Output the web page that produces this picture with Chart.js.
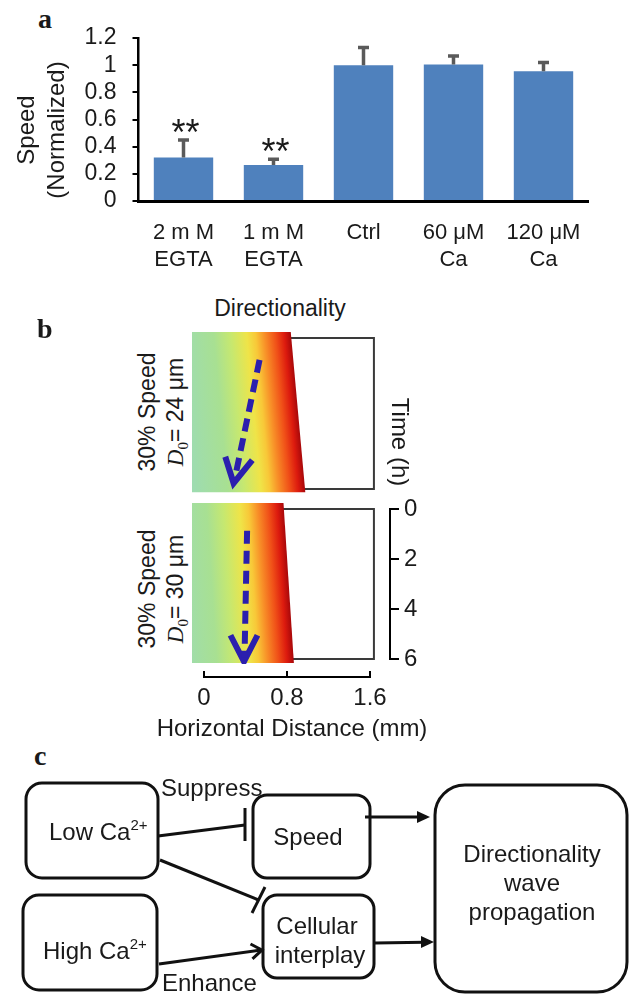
<!DOCTYPE html>
<html>
<head>
<meta charset="utf-8">
<script src="https://cdn.jsdelivr.net/npm/chart.js@4.4.1/dist/chart.umd.min.js"></script>
<style>
  html, body { margin: 0; padding: 0; background: #fff; }
  #pagina { position: relative; width: 630px; height: 994px; overflow: hidden;
            font-family: "Liberation Sans", Arial, sans-serif; color: #1a1a1a; }
  canvas { position: absolute; }
  .letra { position: absolute; font-family: "Liberation Serif", "Times New Roman", serif;
           font-weight: bold; font-size: 28px; line-height: 28px; }
  .texto { position: absolute; white-space: nowrap; line-height: 1; font-size: 23px;
           transform: translate(-50%, -50%); }
  .girado { position: absolute; white-space: nowrap; line-height: 1; font-size: 23px;
            transform: translate(-50%, -50%) rotate(-90deg); }
  .serif { font-family: "Liberation Serif", "Times New Roman", serif; }
  svg { position: absolute; left: 0; top: 0; }
</style>
</head>
<body>
<div id="pagina">
  <!-- painel a -->
  <div class="letra" style="left:38px; top:5px;">a</div>
  <canvas id="graficoVelocidade" width="630" height="290" style="left:0; top:0;"></canvas>
  <div class="girado" style="left:41px; top:130px; font-size:24px; line-height:30px; text-align:center;">Speed<br>(Normalized)</div>

  <!-- painel b -->
  <div class="letra" style="left:37px; top:315px;">b</div>
  <div class="texto" style="left:280px; top:308px;">Directionality</div>
  <div class="girado" style="left:147px; top:412px;">30% Speed</div>
  <div class="girado" style="left:175px; top:412px;"><i class="serif">D</i><span class="serif" style="font-size:15px; position:relative; top:5px;">0</span>= 24 μm</div>
  <div class="girado" style="left:147px; top:589px;">30% Speed</div>
  <div class="girado" style="left:175px; top:589px;"><i class="serif">D</i><span class="serif" style="font-size:15px; position:relative; top:5px;">0</span>= 30 μm</div>
  <canvas id="kimografoTopo" width="184" height="163" style="left:192px; top:331px;"></canvas>
  <canvas id="kimografoBase" width="184" height="162" style="left:192px; top:502px;"></canvas>
  <canvas id="eixoTempo" width="100" height="190" style="left:340px; top:490px;"></canvas>
  <canvas id="eixoDistancia" width="300" height="60" style="left:150px; top:660px;"></canvas>
  <div class="texto" style="left:400px; top:442px; font-size:24px; transform: translate(-50%, -50%) rotate(90deg);">Time (h)</div>
  <div class="texto" style="left:292px; top:728px; font-size:24px;">Horizontal Distance (mm)</div>

  <!-- painel c -->
  <div class="letra" style="left:34px; top:742px;">c</div>
  <svg width="630" height="994" viewBox="0 0 630 994">
    <g fill="none" stroke="#111" stroke-width="3">
      <rect x="26" y="783" width="132" height="95" rx="16"/>
      <rect x="23" y="895" width="134" height="95" rx="16"/>
      <rect x="253" y="795" width="117" height="83" rx="14"/>
      <rect x="263" y="895" width="111" height="83" rx="14"/>
      <rect x="435" y="785" width="192" height="207" rx="30"/>
      <line x1="158" y1="836" x2="245" y2="825"/>
      <line x1="245" y1="808" x2="245" y2="841"/>
      <line x1="160" y1="860" x2="258.5" y2="900"/>
      <line x1="265" y1="887" x2="252" y2="913"/>
      <line x1="159" y1="964" x2="261" y2="950"/>
      <polyline points="250.5,944 262,950 252.5,958.8"/>
      <line x1="365" y1="817" x2="420" y2="817"/>
      <line x1="375" y1="943" x2="424" y2="942.2"/>
    </g>
    <g fill="#111">
      <polygon points="430,817 417,811 417,823"/>
      <polygon points="434,942 421,936 421,948"/>
    </g>
    <g font-family="Liberation Sans, Arial, sans-serif" font-size="24" fill="#1a1a1a">
      <text x="49" y="840">Low Ca<tspan font-size="15" dy="-10">2+</tspan></text>
      <text x="43" y="959">High Ca<tspan font-size="15" dy="-10">2+</tspan></text>
      <text x="308" y="845" text-anchor="middle">Speed</text>
      <text x="317" y="934" text-anchor="middle">Cellular</text>
      <text x="320" y="963" text-anchor="middle">interplay</text>
      <text x="532" y="862" text-anchor="middle">Directionality</text>
      <text x="532" y="891" text-anchor="middle">wave</text>
      <text x="532" y="920" text-anchor="middle">propagation</text>
      <text x="161" y="796">Suppress</text>
      <text x="162" y="991">Enhance</text>
    </g>
  </svg>
</div>

<script>
// painel a: velocidade normalizada
const categorias = [['2 m M', 'EGTA'], ['1 m M', 'EGTA'], 'Ctrl', ['60 μM', 'Ca'], ['120 μM', 'Ca']];
const velocidades = [0.32, 0.265, 1.0, 1.005, 0.955];
const errosVelocidade = [0.13, 0.042, 0.13, 0.063, 0.064];
const significancia = ['**', '**', '', '', ''];
const ticksVelocidade = [0, 0.2, 0.4, 0.6, 0.8, 1, 1.2];

// painel b: eixos (mm e horas)
const ticksDistancia = [0, 0.8, 1.6];
const ticksTempo = [0, 2, 4, 6];

// kimografo de cima (D0 = 24 um)
const ondaTopoX = [-0.12, -0.12, 0.83, 0.97];
const ondaTopoY = [6.13, -0.24, -0.24, 6.13];
const quadroTopoX = [0.80, 1.63, 1.63, 0.95];
const quadroTopoY = [0, 0, 6, 6];
const setaTopoX = [0.53, 0.29];
const setaTopoY = [0.87, 5.62];
const pontaTopoX = [0.20, 0.28, 0.46];
const pontaTopoY = [4.72, 5.77, 4.85];

// kimografo de baixo (D0 = 30 um)
const ondaBaseX = [-0.12, -0.12, 0.76, 0.86];
const ondaBaseY = [6.16, -0.24, -0.24, 6.16];
const quadroBaseX = [0.70, 1.63, 1.63, 0.80];
const quadroBaseY = [0, 0, 6, 6];
const setaBaseX = [0.41, 0.385];
const setaBaseY = [0.87, 5.95];
const pontaBaseX = [0.25, 0.38, 0.51];
const pontaBaseY = [5.05, 6.1, 5.05];

// cores do mapa de calor (posicao relativa a frente da onda)
const paradasCor = [
    [0.00, '#9edcb0'], [0.30, '#a8e092'], [0.45, '#c6e870'], [0.60, '#efe448'],
    [0.68, '#f8c838'], [0.76, '#f89028'], [0.86, '#f05018'], [0.94, '#dc1a0e'], [1.00, '#a8080a']
];
const corSeta = '#2b1fae';

Chart.defaults.font.family = '"Liberation Sans", Arial, sans-serif';
Chart.defaults.color = '#1a1a1a';

function pares(xs, ys) {
    return xs.map((x, i) => ({ x, y: ys[i] }));
}

function ticksFixos(valores) {
    return (eixo) => { eixo.ticks = valores.map(v => ({ value: v })); };
}

// barras de erro e asteriscos por cima das barras
const pluginBarrasErro = {
    id: 'barrasErro',
    afterDatasetsDraw(chart) {
        const { ctx, scales: { y } } = chart;
        const meta = chart.getDatasetMeta(0);
        ctx.save();
        meta.data.forEach((barra, i) => {
            const topo = y.getPixelForValue(velocidades[i] + errosVelocidade[i]);
            ctx.strokeStyle = '#5a5a5a';
            ctx.lineWidth = 3.5;
            ctx.beginPath();
            ctx.moveTo(barra.x, barra.y);
            ctx.lineTo(barra.x, topo);
            ctx.moveTo(barra.x - 5.5, topo);
            ctx.lineTo(barra.x + 5.5, topo);
            ctx.stroke();
            if (significancia[i]) {
                ctx.fillStyle = '#1a1a1a';
                ctx.font = '36px "Liberation Sans", Arial, sans-serif';
                ctx.textAlign = 'center';
                ctx.textBaseline = 'alphabetic';
                ctx.fillText(significancia[i], barra.x + 2, topo + 5);
            }
        });
        ctx.restore();
    }
};

function renderizarGraficoVelocidade() {
    new Chart(document.getElementById('graficoVelocidade'), {
        type: 'bar',
        data: {
            labels: categorias,
            datasets: [{
                data: velocidades,
                backgroundColor: '#4f81bd',
                categoryPercentage: 1,
                barPercentage: 0.66
            }]
        },
        options: {
            responsive: false,
            animation: false,
            layout: { padding: { left: 0, right: 41.5, top: 38, bottom: 0 } },
            plugins: { legend: { display: false }, tooltip: { enabled: false } },
            scales: {
                x: {
                    grid: { display: true, drawOnChartArea: false, drawTicks: false },
                    border: { color: '#000', width: 3 },
                    ticks: { font: { size: 22, lineHeight: 1.23 }, padding: 18, maxRotation: 0, autoSkip: false },
                    afterFit: (s) => { s.height = 89; }
                },
                y: {
                    min: 0,
                    max: 1.2,
                    afterBuildTicks: ticksFixos(ticksVelocidade),
                    grid: { drawOnChartArea: false, color: '#000', lineWidth: 2, tickLength: 6 },
                    border: { color: '#000', width: 2.5 },
                    ticks: { font: { size: 23 }, padding: 16, autoSkip: false, callback: (v) => String(v) },
                    afterFit: (s) => { s.width = 138.5; }
                }
            }
        },
        plugins: [pluginBarrasErro]
    });
}

// gradiente perpendicular a frente da onda
function gradienteOnda(ondaX, ondaY) {
    return (context) => {
        const { ctx, chartArea, scales } = context.chart;
        if (!chartArea) return '#efe448';
        const x0 = scales.x.getPixelForValue(ondaX[2]), y0 = scales.y.getPixelForValue(ondaY[2]);
        const x1 = scales.x.getPixelForValue(ondaX[3]), y1 = scales.y.getPixelForValue(ondaY[3]);
        const len = Math.hypot(x1 - x0, y1 - y0);
        const nx = (y1 - y0) / len, ny = -(x1 - x0) / len;
        const mx = (x0 + x1) / 2, my = (y0 + y1) / 2;
        const g = ctx.createLinearGradient(mx - nx * 110, my - ny * 110, mx, my);
        paradasCor.forEach(([t, c]) => g.addColorStop(t, c));
        return g;
    };
}

function renderizarKimografo(id, onda, quadro, seta, ponta) {
    new Chart(document.getElementById(id), {
        type: 'line',
        data: {
            datasets: [
                { data: pares(seta[0], seta[1]), borderColor: corSeta, borderWidth: 6, borderDash: [13, 7], pointRadius: 0, fill: false },
                { data: pares(ponta[0], ponta[1]), borderColor: corSeta, borderWidth: 6, borderJoinStyle: 'miter', pointRadius: 0, fill: false },
                { data: pares(onda[0], onda[1]), borderColor: 'rgba(0,0,0,0)', borderWidth: 0, pointRadius: 0, fill: 'shape', backgroundColor: gradienteOnda(onda[0], onda[1]) },
                { data: pares(quadro[0], quadro[1]), borderColor: '#3a3a3a', borderWidth: 2, pointRadius: 0, fill: false }
            ]
        },
        options: {
            responsive: false,
            animation: false,
            layout: { padding: 0 },
            plugins: { legend: { display: false }, tooltip: { enabled: false } },
            scales: {
                x: { type: 'linear', display: false, min: -0.12, max: 1.65 },
                y: { display: false, min: -0.28, max: 6.2, reverse: true }
            }
        }
    });
}

function renderizarEixosTempoDistancia() {
    new Chart(document.getElementById('eixoTempo'), {
        type: 'scatter',
        data: { datasets: [] },
        options: {
            responsive: false,
            animation: false,
            layout: { padding: { top: 19, bottom: 21, left: 0, right: 0 } },
            plugins: { legend: { display: false }, tooltip: { enabled: false } },
            scales: {
                x: { display: false, min: 0, max: 1 },
                y: {
                    position: 'right',
                    min: 0,
                    max: 6,
                    reverse: true,
                    afterBuildTicks: ticksFixos(ticksTempo),
                    grid: { drawOnChartArea: false, color: '#000', lineWidth: 2, tickLength: 9 },
                    border: { color: '#000', width: 2 },
                    ticks: { font: { size: 24 }, padding: 5, autoSkip: false },
                    afterFit: (s) => { s.width = 50; }
                }
            }
        }
    });

    new Chart(document.getElementById('eixoDistancia'), {
        type: 'scatter',
        data: { datasets: [] },
        options: {
            responsive: false,
            animation: false,
            layout: { padding: { left: 54, right: 80, top: 11, bottom: 0 } },
            plugins: { legend: { display: false }, tooltip: { enabled: false } },
            scales: {
                x: {
                    min: 0,
                    max: 1.6,
                    afterBuildTicks: ticksFixos(ticksDistancia),
                    grid: { color: '#000', lineWidth: 2, drawTicks: false, drawOnChartArea: true },
                    border: { color: '#000', width: 2 },
                    ticks: { font: { size: 24 }, padding: 7, autoSkip: false },
                    afterFit: (s) => { s.height = 43; }
                },
                y: { display: false, min: 0, max: 1 }
            }
        }
    });
}

// inicializacao
document.addEventListener('DOMContentLoaded', () => {
    renderizarGraficoVelocidade();
    renderizarKimografo('kimografoTopo', [ondaTopoX, ondaTopoY], [quadroTopoX, quadroTopoY],
        [setaTopoX, setaTopoY], [pontaTopoX, pontaTopoY]);
    renderizarKimografo('kimografoBase', [ondaBaseX, ondaBaseY], [quadroBaseX, quadroBaseY],
        [setaBaseX, setaBaseY], [pontaBaseX, pontaBaseY]);
    renderizarEixosTempoDistancia();
});
</script>
</body>
</html>
